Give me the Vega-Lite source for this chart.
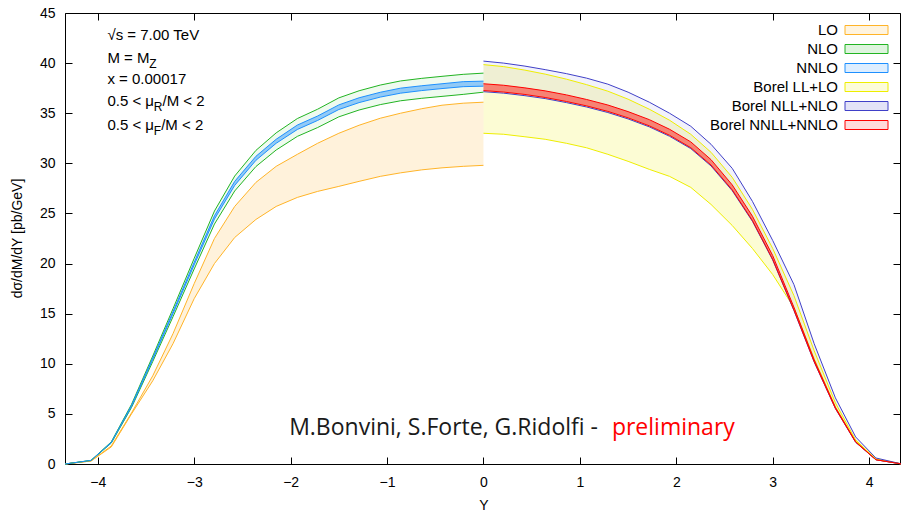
{
  "$schema": "https://vega.github.io/schema/vega-lite/v6.json",
  "width": 835,
  "height": 451,
  "autosize": "none",
  "padding": {"left": 65, "top": 13, "right": 1, "bottom": 50},
  "config": {
    "view": {"stroke": "#000", "strokeWidth": 1},
    "font": "Liberation Sans",
    "axis": {"grid": false, "domain": false, "tickColor": "#000", "tickWidth": 1, "labelColor": "#000", "labelFont": "Liberation Sans", "labelFontSize": 14, "titleFont": "Liberation Sans", "titleFontSize": 14, "titleFontWeight": "normal", "titleColor": "#000"}
  },
  "datasets": {
    "bands": [
      {"series": "LO", "Y": -4.34, "lo": 0, "hi": 0},
      {"series": "LO", "Y": -4.07, "lo": 0.3, "hi": 0.3},
      {"series": "LO", "Y": -3.86, "lo": 1.7, "hi": 1.8},
      {"series": "LO", "Y": -3.65, "lo": 5.0, "hi": 5.1},
      {"series": "LO", "Y": -3.43, "lo": 8.3, "hi": 8.8},
      {"series": "LO", "Y": -3.22, "lo": 12.0, "hi": 13.0},
      {"series": "LO", "Y": -3.0, "lo": 16.5, "hi": 18.0},
      {"series": "LO", "Y": -2.79, "lo": 20.0, "hi": 22.5},
      {"series": "LO", "Y": -2.58, "lo": 22.6, "hi": 25.7},
      {"series": "LO", "Y": -2.36, "lo": 24.4, "hi": 28.1},
      {"series": "LO", "Y": -2.15, "lo": 25.7, "hi": 29.7},
      {"series": "LO", "Y": -1.93, "lo": 26.6, "hi": 30.9},
      {"series": "LO", "Y": -1.72, "lo": 27.2, "hi": 32.0},
      {"series": "LO", "Y": -1.5, "lo": 27.7, "hi": 33.0},
      {"series": "LO", "Y": -1.29, "lo": 28.2, "hi": 33.8},
      {"series": "LO", "Y": -1.07, "lo": 28.7, "hi": 34.5},
      {"series": "LO", "Y": -0.86, "lo": 29.05, "hi": 35.0},
      {"series": "LO", "Y": -0.64, "lo": 29.35, "hi": 35.45},
      {"series": "LO", "Y": -0.43, "lo": 29.55, "hi": 35.8},
      {"series": "LO", "Y": -0.21, "lo": 29.7, "hi": 36.0},
      {"series": "LO", "Y": 0, "lo": 29.8, "hi": 36.1},

      {"series": "NLO", "Y": -4.34, "lo": 0, "hi": 0},
      {"series": "NLO", "Y": -4.07, "lo": 0.34, "hi": 0.36},
      {"series": "NLO", "Y": -3.86, "lo": 2.09, "hi": 2.21},
      {"series": "NLO", "Y": -3.65, "lo": 5.64, "hi": 5.95},
      {"series": "NLO", "Y": -3.43, "lo": 10.22, "hi": 10.77},
      {"series": "NLO", "Y": -3.22, "lo": 14.69, "hi": 15.49},
      {"series": "NLO", "Y": -3.0, "lo": 19.46, "hi": 20.52},
      {"series": "NLO", "Y": -2.79, "lo": 23.94, "hi": 25.24},
      {"series": "NLO", "Y": -2.58, "lo": 27.24, "hi": 28.73},
      {"series": "NLO", "Y": -2.36, "lo": 29.68, "hi": 31.29},
      {"series": "NLO", "Y": -2.15, "lo": 31.33, "hi": 33.04},
      {"series": "NLO", "Y": -1.93, "lo": 32.69, "hi": 34.47},
      {"series": "NLO", "Y": -1.72, "lo": 33.57, "hi": 35.4},
      {"series": "NLO", "Y": -1.5, "lo": 34.64, "hi": 36.53},
      {"series": "NLO", "Y": -1.29, "lo": 35.32, "hi": 37.24},
      {"series": "NLO", "Y": -1.07, "lo": 35.86, "hi": 37.81},
      {"series": "NLO", "Y": -0.86, "lo": 36.24, "hi": 38.22},
      {"series": "NLO", "Y": -0.64, "lo": 36.49, "hi": 38.48},
      {"series": "NLO", "Y": -0.43, "lo": 36.68, "hi": 38.68},
      {"series": "NLO", "Y": -0.21, "lo": 36.88, "hi": 38.88},
      {"series": "NLO", "Y": 0, "lo": 37.1, "hi": 39.0},

      {"series": "NNLO", "Y": -4.34, "lo": 0, "hi": 0},
      {"series": "NNLO", "Y": -4.07, "lo": 0.34, "hi": 0.36},
      {"series": "NNLO", "Y": -3.86, "lo": 2.13, "hi": 2.17},
      {"series": "NNLO", "Y": -3.65, "lo": 5.75, "hi": 5.85},
      {"series": "NNLO", "Y": -3.43, "lo": 10.43, "hi": 10.57},
      {"series": "NNLO", "Y": -3.22, "lo": 15.0, "hi": 15.2},
      {"series": "NNLO", "Y": -3.0, "lo": 19.87, "hi": 20.13},
      {"series": "NNLO", "Y": -2.79, "lo": 24.44, "hi": 24.76},
      {"series": "NNLO", "Y": -2.58, "lo": 27.8, "hi": 28.2},
      {"series": "NNLO", "Y": -2.36, "lo": 30.3, "hi": 30.7},
      {"series": "NNLO", "Y": -2.15, "lo": 32.0, "hi": 32.4},
      {"series": "NNLO", "Y": -1.93, "lo": 33.38, "hi": 33.82},
      {"series": "NNLO", "Y": -1.72, "lo": 34.28, "hi": 34.72},
      {"series": "NNLO", "Y": -1.5, "lo": 35.37, "hi": 35.83},
      {"series": "NNLO", "Y": -1.29, "lo": 36.06, "hi": 36.54},
      {"series": "NNLO", "Y": -1.07, "lo": 36.61, "hi": 37.09},
      {"series": "NNLO", "Y": -0.86, "lo": 37.0, "hi": 37.5},
      {"series": "NNLO", "Y": -0.64, "lo": 37.26, "hi": 37.74},
      {"series": "NNLO", "Y": -0.43, "lo": 37.46, "hi": 37.94},
      {"series": "NNLO", "Y": -0.21, "lo": 37.65, "hi": 38.15},
      {"series": "NNLO", "Y": 0, "lo": 37.7, "hi": 38.2},

      {"series": "Borel LL+LO", "Y": 0, "lo": 33.0, "hi": 39.85},
      {"series": "Borel LL+LO", "Y": 0.21, "lo": 32.9, "hi": 39.65},
      {"series": "Borel LL+LO", "Y": 0.43, "lo": 32.65, "hi": 39.3},
      {"series": "Borel LL+LO", "Y": 0.64, "lo": 32.4, "hi": 38.9},
      {"series": "Borel LL+LO", "Y": 0.86, "lo": 32.0, "hi": 38.4},
      {"series": "Borel LL+LO", "Y": 1.07, "lo": 31.55, "hi": 37.85},
      {"series": "Borel LL+LO", "Y": 1.29, "lo": 30.9, "hi": 37.2},
      {"series": "Borel LL+LO", "Y": 1.5, "lo": 30.2, "hi": 36.4},
      {"series": "Borel LL+LO", "Y": 1.72, "lo": 29.4, "hi": 35.4},
      {"series": "Borel LL+LO", "Y": 1.93, "lo": 28.7, "hi": 34.3},
      {"series": "Borel LL+LO", "Y": 2.15, "lo": 27.6, "hi": 32.9},
      {"series": "Borel LL+LO", "Y": 2.36, "lo": 25.9, "hi": 31.1},
      {"series": "Borel LL+LO", "Y": 2.58, "lo": 23.8, "hi": 28.6},
      {"series": "Borel LL+LO", "Y": 2.79, "lo": 21.5, "hi": 25.4},
      {"series": "Borel LL+LO", "Y": 3.0, "lo": 18.9, "hi": 21.5},
      {"series": "Borel LL+LO", "Y": 3.22, "lo": 15.6, "hi": 16.8},
      {"series": "Borel LL+LO", "Y": 3.43, "lo": 10.5, "hi": 11.3},
      {"series": "Borel LL+LO", "Y": 3.65, "lo": 5.7, "hi": 6.1},
      {"series": "Borel LL+LO", "Y": 3.86, "lo": 2.3, "hi": 2.4},
      {"series": "Borel LL+LO", "Y": 4.07, "lo": 0.45, "hi": 0.5},
      {"series": "Borel LL+LO", "Y": 4.34, "lo": 0, "hi": 0},

      {"series": "Borel NLL+NLO", "Y": 0, "lo": 37.15, "hi": 40.2},
      {"series": "Borel NLL+NLO", "Y": 0.21, "lo": 37.0, "hi": 40.0},
      {"series": "Borel NLL+NLO", "Y": 0.43, "lo": 36.75, "hi": 39.7},
      {"series": "Borel NLL+NLO", "Y": 0.64, "lo": 36.46, "hi": 39.35},
      {"series": "Borel NLL+NLO", "Y": 0.86, "lo": 36.06, "hi": 38.95},
      {"series": "Borel NLL+NLO", "Y": 1.07, "lo": 35.62, "hi": 38.5},
      {"series": "Borel NLL+NLO", "Y": 1.29, "lo": 35.07, "hi": 37.9},
      {"series": "Borel NLL+NLO", "Y": 1.5, "lo": 34.43, "hi": 37.1},
      {"series": "Borel NLL+NLO", "Y": 1.72, "lo": 33.64, "hi": 36.1},
      {"series": "Borel NLL+NLO", "Y": 1.93, "lo": 32.7, "hi": 35.0},
      {"series": "Borel NLL+NLO", "Y": 2.15, "lo": 31.47, "hi": 33.7},
      {"series": "Borel NLL+NLO", "Y": 2.36, "lo": 29.74, "hi": 31.9},
      {"series": "Borel NLL+NLO", "Y": 2.58, "lo": 27.27, "hi": 29.5},
      {"series": "Borel NLL+NLO", "Y": 2.79, "lo": 24.21, "hi": 26.2},
      {"series": "Borel NLL+NLO", "Y": 3.0, "lo": 20.35, "hi": 22.3},
      {"series": "Borel NLL+NLO", "Y": 3.22, "lo": 15.31, "hi": 17.9},
      {"series": "Borel NLL+NLO", "Y": 3.43, "lo": 10.18, "hi": 12.0},
      {"series": "Borel NLL+NLO", "Y": 3.65, "lo": 5.53, "hi": 6.6},
      {"series": "Borel NLL+NLO", "Y": 3.86, "lo": 2.17, "hi": 2.7},
      {"series": "Borel NLL+NLO", "Y": 4.07, "lo": 0.42, "hi": 0.6},
      {"series": "Borel NLL+NLO", "Y": 4.34, "lo": 0, "hi": 0},

      {"series": "Borel NNLL+NNLO", "Y": 0, "lo": 37.26, "hi": 37.94},
      {"series": "Borel NNLL+NNLO", "Y": 0.21, "lo": 37.11, "hi": 37.79},
      {"series": "Borel NNLL+NNLO", "Y": 0.43, "lo": 36.87, "hi": 37.53},
      {"series": "Borel NNLL+NNLO", "Y": 0.64, "lo": 36.57, "hi": 37.23},
      {"series": "Borel NNLL+NNLO", "Y": 0.86, "lo": 36.17, "hi": 36.83},
      {"series": "Borel NNLL+NNLO", "Y": 1.07, "lo": 35.73, "hi": 36.37},
      {"series": "Borel NNLL+NNLO", "Y": 1.29, "lo": 35.18, "hi": 35.82},
      {"series": "Borel NNLL+NNLO", "Y": 1.5, "lo": 34.54, "hi": 35.16},
      {"series": "Borel NNLL+NNLO", "Y": 1.72, "lo": 33.74, "hi": 34.36},
      {"series": "Borel NNLL+NNLO", "Y": 1.93, "lo": 32.8, "hi": 33.4},
      {"series": "Borel NNLL+NNLO", "Y": 2.15, "lo": 31.56, "hi": 32.14},
      {"series": "Borel NNLL+NNLO", "Y": 2.36, "lo": 29.83, "hi": 30.37},
      {"series": "Borel NNLL+NNLO", "Y": 2.58, "lo": 27.35, "hi": 27.85},
      {"series": "Borel NNLL+NNLO", "Y": 2.79, "lo": 24.28, "hi": 24.72},
      {"series": "Borel NNLL+NNLO", "Y": 3.0, "lo": 20.41, "hi": 20.79},
      {"series": "Borel NNLL+NNLO", "Y": 3.22, "lo": 15.36, "hi": 15.64},
      {"series": "Borel NNLL+NNLO", "Y": 3.43, "lo": 10.21, "hi": 10.39},
      {"series": "Borel NNLL+NNLO", "Y": 3.65, "lo": 5.55, "hi": 5.65},
      {"series": "Borel NNLL+NNLO", "Y": 3.86, "lo": 2.18, "hi": 2.22},
      {"series": "Borel NNLL+NNLO", "Y": 4.07, "lo": 0.43, "hi": 0.43},
      {"series": "Borel NNLL+NNLO", "Y": 4.34, "lo": 0, "hi": 0}
    ],
    "ann": [
      {"x": -3.9, "y": 42.35, "t": "√s = 7.00 TeV"},
      {"x": -3.9, "y": 40.02, "t": "M = M"},
      {"x": -3.9, "y": 37.92, "t": "x = 0.00017"},
      {"x": -3.9, "y": 35.69, "t": "0.5 < μ"},
      {"x": -3.329, "y": 35.69, "t": "/M < 2"},
      {"x": -3.9, "y": 33.36, "t": "0.5 < μ"},
      {"x": -3.343, "y": 33.36, "t": "/M < 2"}
    ],
    "sub": [
      {"x": -3.465, "y": 40.02, "t": "Z"},
      {"x": -3.419, "y": 35.69, "t": "R"},
      {"x": -3.419, "y": 33.36, "t": "F"}
    ]
  },
  "layer": [
    {
      "data": {"name": "bands"},
      "transform": [{"filter": {"field": "series", "oneOf": ["LO", "Borel LL+LO"]}}],
      "mark": {"type": "area", "fillOpacity": 0.17},
      "encoding": {
        "x": {"field": "Y", "type": "quantitative", "scale": {"domain": [-4.34, 4.32], "nice": false, "zero": false},
              "axis": {"orient": "bottom", "values": [-4, -3, -2, -1, 0, 1, 2, 3, 4], "tickSize": -7, "labelPadding": 18, "title": "Y", "titleX": 418.5, "titleY": 41, "titleBaseline": "middle"}},
        "y": {"field": "lo", "type": "quantitative", "scale": {"domain": [0, 45], "nice": false, "zero": false},
              "axis": {"orient": "left", "values": [0, 5, 10, 15, 20, 25, 30, 35, 40, 45], "tickSize": -7, "labelPadding": 17, "title": "dσ/dM/dY [pb/GeV]", "titleX": -48, "titleY": 225, "titleBaseline": "middle", "titleAlign": "center", "titleAngle": -90}},
        "y2": {"field": "hi"},
        "color": {"field": "series", "type": "nominal",
                  "scale": {"domain": ["LO", "NLO", "NNLO", "Borel LL+LO", "Borel NLL+NLO", "Borel NNLL+NNLO"], "range": ["#ffb428", "#22b422", "#1e90ff", "#eeee00", "#4040c8", "#ff0000"]},
                  "legend": {"orient": "none", "legendX": 777, "legendY": 9.5, "title": null, "padding": 0, "symbolType": "M-1,-1H8.556V1H-1Z", "symbolSize": 81, "symbolStrokeWidth": 1, "labelAlign": "right", "labelOffset": -19, "labelFontSize": 15, "labelFont": "Liberation Sans", "labelColor": "#000", "rowPadding": 3, "labelLimit": 300,
                             "encode": {"symbols": {"update": {"fill": {"scale": "color", "field": "value"}, "stroke": {"scale": "color", "field": "value"}, "fillOpacity": {"value": 0.15}, "opacity": {"value": 1}, "strokeWidth": {"value": 1}}}}}}
      }
    },
    {
      "data": {"name": "bands"},
      "transform": [{"filter": {"field": "series", "oneOf": ["NLO", "Borel NLL+NLO"]}}],
      "mark": {"type": "area", "fillOpacity": 0.07},
      "encoding": {
        "x": {"field": "Y", "type": "quantitative", "scale": {"domain": [-4.34, 4.32], "nice": false, "zero": false},
              "axis": {"orient": "top", "values": [-4, -3, -2, -1, 0, 1, 2, 3, 4], "tickSize": -7, "labels": false, "title": null}},
        "y": {"field": "lo", "type": "quantitative", "scale": {"domain": [0, 45], "nice": false, "zero": false},
              "axis": {"orient": "right", "values": [0, 5, 10, 15, 20, 25, 30, 35, 40, 45], "tickSize": -7, "labels": false, "title": null}},
        "y2": {"field": "hi"},
        "color": {"field": "series", "type": "nominal"}
      }
    },
    {
      "data": {"name": "bands"},
      "transform": [{"filter": {"field": "series", "oneOf": ["NNLO", "Borel NNLL+NNLO"]}}],
      "mark": {"type": "area", "fillOpacity": 0.45},
      "encoding": {
        "x": {"field": "Y", "type": "quantitative", "scale": {"domain": [-4.34, 4.32], "nice": false, "zero": false}, "axis": null},
        "y": {"field": "lo", "type": "quantitative", "scale": {"domain": [0, 45], "nice": false, "zero": false}, "axis": null},
        "y2": {"field": "hi"},
        "color": {"field": "series", "type": "nominal"}
      }
    },
    {
      "data": {"name": "bands"},
      "mark": {"type": "line", "strokeWidth": 1},
      "encoding": {
        "x": {"field": "Y", "type": "quantitative", "scale": {"domain": [-4.34, 4.32], "nice": false, "zero": false}, "axis": null},
        "y": {"field": "lo", "type": "quantitative", "scale": {"domain": [0, 45], "nice": false, "zero": false}, "axis": null},
        "color": {"field": "series", "type": "nominal"}
      }
    },
    {
      "data": {"name": "bands"},
      "mark": {"type": "line", "strokeWidth": 1},
      "encoding": {
        "x": {"field": "Y", "type": "quantitative", "scale": {"domain": [-4.34, 4.32], "nice": false, "zero": false}, "axis": null},
        "y": {"field": "hi", "type": "quantitative", "scale": {"domain": [0, 45], "nice": false, "zero": false}, "axis": null},
        "color": {"field": "series", "type": "nominal"}
      }
    },
    {
      "data": {"name": "ann"},
      "mark": {"type": "text", "align": "left", "baseline": "alphabetic", "font": "Liberation Sans", "fontSize": 15, "color": "#000"},
      "encoding": {
        "x": {"field": "x", "type": "quantitative", "scale": {"domain": [-4.34, 4.32], "nice": false, "zero": false}, "axis": null},
        "y": {"field": "y", "type": "quantitative", "scale": {"domain": [0, 45], "nice": false, "zero": false}, "axis": null},
        "text": {"field": "t"}
      }
    },
    {
      "data": {"name": "sub"},
      "mark": {"type": "text", "align": "left", "baseline": "alphabetic", "font": "Liberation Sans", "fontSize": 12, "dy": 5, "color": "#000"},
      "encoding": {
        "x": {"field": "x", "type": "quantitative", "scale": {"domain": [-4.34, 4.32], "nice": false, "zero": false}, "axis": null},
        "y": {"field": "y", "type": "quantitative", "scale": {"domain": [0, 45], "nice": false, "zero": false}, "axis": null},
        "text": {"field": "t"}
      }
    },
    {
      "data": {"values": [{"x": 1.188, "y": 2.92, "t": "M.Bonvini, S.Forte, G.Ridolfi -"}]},
      "mark": {"type": "text", "align": "right", "baseline": "alphabetic", "font": "Open Sans", "fontSize": 23, "color": "#1a1a1a"},
      "encoding": {
        "x": {"field": "x", "type": "quantitative", "scale": {"domain": [-4.34, 4.32], "nice": false, "zero": false}, "axis": null},
        "y": {"field": "y", "type": "quantitative", "scale": {"domain": [0, 45], "nice": false, "zero": false}, "axis": null},
        "text": {"field": "t"}
      }
    },
    {
      "data": {"values": [{"x": 1.332, "y": 2.92, "t": "preliminary"}]},
      "mark": {"type": "text", "align": "left", "baseline": "alphabetic", "font": "Open Sans", "fontSize": 23, "color": "#ff0000"},
      "encoding": {
        "x": {"field": "x", "type": "quantitative", "scale": {"domain": [-4.34, 4.32], "nice": false, "zero": false}, "axis": null},
        "y": {"field": "y", "type": "quantitative", "scale": {"domain": [0, 45], "nice": false, "zero": false}, "axis": null},
        "text": {"field": "t"}
      }
    }
  ],
  "resolve": {"axis": {"x": "independent", "y": "independent"}}
}
